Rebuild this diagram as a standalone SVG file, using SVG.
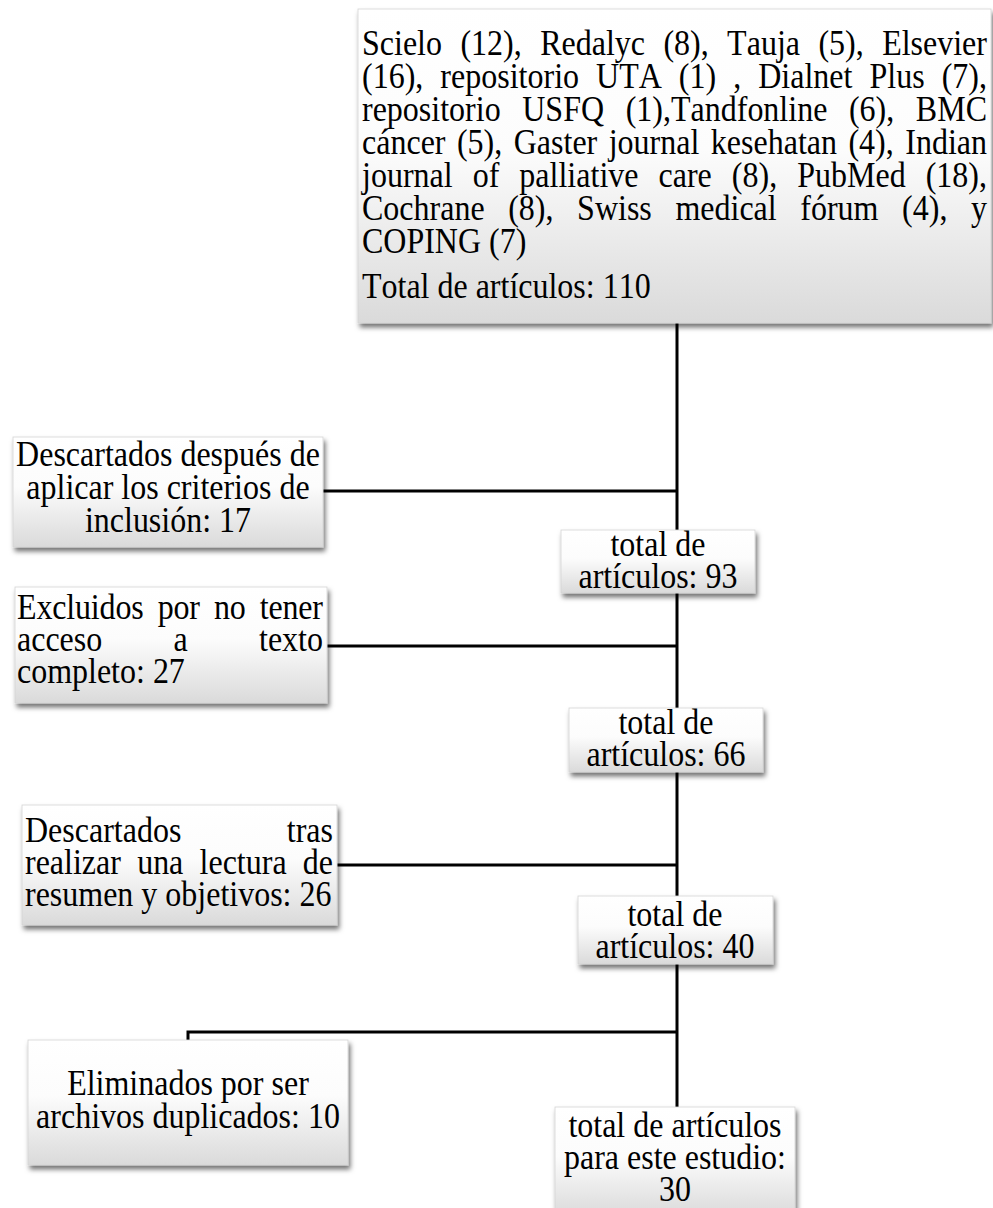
<svg xmlns="http://www.w3.org/2000/svg" width="993" height="1208" viewBox="0 0 993 1208">
<defs>
<linearGradient id="g" x1="0" y1="0" x2="0" y2="1">
<stop offset="0" stop-color="#ffffff"/>
<stop offset="0.45" stop-color="#fcfcfc"/>
<stop offset="1" stop-color="#dadada"/>
</linearGradient>
<filter id="sh" x="-10%" y="-10%" width="125%" height="140%">
<feGaussianBlur in="SourceAlpha" stdDeviation="2.5"/>
<feOffset dx="2" dy="4" result="b"/>
<feFlood flood-color="#000" flood-opacity="0.55"/>
<feComposite in2="b" operator="in"/>
<feMerge><feMergeNode/><feMergeNode in="SourceGraphic"/></feMerge>
</filter>
</defs>
<style>
.box{fill:url(#g);stroke:#d4d4d4;stroke-width:0.8;filter:url(#sh)}
text{font-family:"Liberation Serif","Times New Roman",serif;font-size:32px;fill:#000;font-kerning:none}
.c{text-anchor:middle}
.ln{stroke:#000;stroke-width:3;fill:none}
</style>
<g id="connectors">
<line class="ln" x1="677" y1="320" x2="677" y2="1110"/>
<line class="ln" x1="322" y1="491" x2="677" y2="491"/>
<line class="ln" x1="326" y1="646" x2="677" y2="646"/>
<line class="ln" x1="336" y1="865" x2="677" y2="865"/>
<polyline class="ln" points="677,1032 188,1032 188,1042"/>
</g>
<g id="n-sources">
<rect class="box" x="358" y="9" width="633" height="314"/>
<text transform="translate(0,55) scale(1,1.13)"><tspan x="362" y="0" textLength="625" lengthAdjust="spacing" style="word-spacing:10.4px">Scielo (12), Redalyc (8), Tauja (5), Elsevier</tspan><tspan x="362" y="29.2" textLength="625" lengthAdjust="spacing" style="word-spacing:9px">(16), repositorio UTA (1) , Dialnet Plus (7),</tspan><tspan x="362" y="58.41" textLength="625" lengthAdjust="spacing" style="word-spacing:13.6px">repositorio USFQ (1),Tandfonline (6), BMC</tspan><tspan x="362" y="87.61" textLength="625" lengthAdjust="spacing" style="word-spacing:3.4px">cáncer (5), Gaster journal kesehatan (4), Indian</tspan><tspan x="362" y="116.81" textLength="625" lengthAdjust="spacing" style="word-spacing:12px">journal of palliative care (8), PubMed (18),</tspan><tspan x="362" y="146.02" textLength="625" lengthAdjust="spacing" style="word-spacing:15.6px">Cochrane (8), Swiss medical fórum (4), y</tspan><tspan x="362" y="175.22">COPING (7)</tspan><tspan x="362" y="215.04">Total de artículos: 110</tspan></text>
</g>
<g id="n-descartados-inclusion">
<rect class="box" x="13" y="437" width="310" height="110"/>
<text class="c" transform="translate(0,466) scale(1,1.13)"><tspan x="168" y="0">Descartados después de</tspan><tspan x="168" y="29.2">aplicar los criterios de</tspan><tspan x="168" y="58.41">inclusión: 17</tspan></text>
</g>
<g id="n-total-93">
<rect class="box" x="561" y="530" width="194" height="63"/>
<text class="c" transform="translate(0,556) scale(1,1.13)"><tspan x="658" y="0">total de</tspan><tspan x="658" y="28.32">artículos: 93</tspan></text>
</g>
<g id="n-excluidos">
<rect class="box" x="15" y="587" width="312" height="116"/>
<text transform="translate(0,619) scale(1,1.13)"><tspan x="17" y="0" textLength="306" lengthAdjust="spacing" style="word-spacing:6.2px">Excluidos por no tener</tspan><tspan x="17" y="28.32" textLength="306" lengthAdjust="spacing" style="word-spacing:63.3px">acceso a texto</tspan><tspan x="17" y="56.64">completo: 27</tspan></text>
</g>
<g id="n-total-66">
<rect class="box" x="569" y="708" width="194" height="64"/>
<text class="c" transform="translate(0,734) scale(1,1.13)"><tspan x="666" y="0">total de</tspan><tspan x="666" y="28.32">artículos: 66</tspan></text>
</g>
<g id="n-descartados-tras">
<rect class="box" x="22" y="805" width="315" height="120"/>
<text transform="translate(0,842) scale(1,1.13)"><tspan x="25" y="0" textLength="308" lengthAdjust="spacing" style="word-spacing:97.4px">Descartados tras</tspan><tspan x="25" y="28.32" textLength="308" lengthAdjust="spacing" style="word-spacing:8.2px">realizar una lectura de</tspan><tspan x="25" y="56.64">resumen y objetivos: 26</tspan></text>
</g>
<g id="n-total-40">
<rect class="box" x="578" y="896" width="195" height="68"/>
<text class="c" transform="translate(0,926) scale(1,1.13)"><tspan x="675" y="0">total de</tspan><tspan x="675" y="28.32">artículos: 40</tspan></text>
</g>
<g id="n-eliminados">
<rect class="box" x="28" y="1040" width="320" height="125"/>
<text class="c" transform="translate(0,1095) scale(1,1.13)"><tspan x="188" y="0">Eliminados por ser</tspan><tspan x="188" y="29.2">archivos duplicados: 10</tspan></text>
</g>
<g id="n-total-30">
<rect class="box" x="555" y="1107" width="240" height="110"/>
<text class="c" transform="translate(0,1137) scale(1,1.13)"><tspan x="675" y="0">total de artículos</tspan><tspan x="675" y="28.32">para este estudio:</tspan><tspan x="675" y="56.64">30</tspan></text>
</g>
</svg>
